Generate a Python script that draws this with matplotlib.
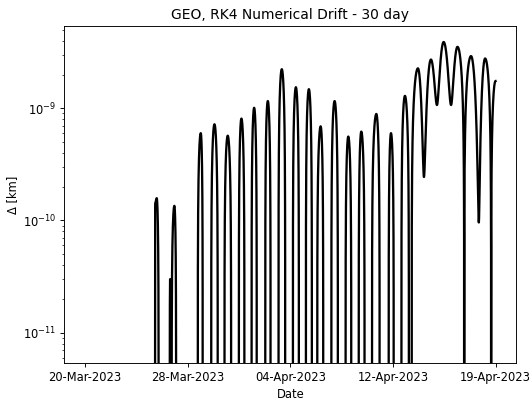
import numpy as np
import matplotlib
matplotlib.use("Agg")
import matplotlib.pyplot as plt
import matplotlib.dates as mdates

# Propagation epoch and span (days)
epoch = np.datetime64("2023-03-20T12:00")
span_days = 30.0

# Turning points of the drift curve: days since epoch and |delta| in km.
# A value of 0 means the two propagations agree exactly at that instant.
knot_day = [
    0.00,
    5.12, 5.13, 5.24, 5.38,
    6.19, 6.22, 6.25,
    6.33, 6.53, 6.66,
    8.24, 8.46, 8.60,
    9.22, 9.46, 9.70,
    10.19, 10.43, 10.68,
    11.24, 11.43, 11.65,
    12.17, 12.36, 12.55,
    13.17, 13.36, 13.56,
    14.14, 14.38, 14.63,
    15.19, 15.41, 15.63,
    16.14, 16.36, 16.58,
    16.97, 17.22, 17.41,
    18.00, 18.24, 18.48,
    19.04, 19.24, 19.46,
    20.00, 20.19, 20.43,
    20.97, 21.29, 21.53,
    22.19, 22.36, 22.56,
    23.12, 23.38, 23.67,
    23.87, 24.33, 24.77, 25.28, 25.72, 26.21, 26.75, 27.22, 27.71,
    28.21, 28.78, 29.24, 29.68, 30.00,
]
knot_drift = [
    0.0,
    0.0, 1.43e-10, 1.58e-10, 0.0,
    0.0, 3.0e-11, 0.0,
    0.0, 1.35e-10, 0.0,
    0.0, 6.0e-10, 0.0,
    0.0, 7.2e-10, 0.0,
    0.0, 5.7e-10, 0.0,
    0.0, 8.1e-10, 0.0,
    0.0, 1.01e-9, 0.0,
    0.0, 1.16e-9, 0.0,
    0.0, 2.23e-9, 0.0,
    0.0, 1.54e-9, 0.0,
    0.0, 1.48e-9, 0.0,
    0.0, 6.9e-10, 0.0,
    0.0, 1.16e-9, 0.0,
    0.0, 5.6e-10, 0.0,
    0.0, 6.2e-10, 0.0,
    0.0, 8.9e-10, 0.0,
    0.0, 6.0e-10, 0.0,
    0.0, 1.29e-9, 0.0,
    0.0, 2.27e-9, 2.44e-10, 2.72e-9, 1.07e-9, 3.9e-9, 1.07e-9, 3.53e-9, 0.0,
    2.92e-9, 9.6e-11, 2.78e-9, 0.0, 1.75e-9,
]


def smooth_segment(t0, t1, v0, v1, n=80):
    """Rounded transition between two turning points."""
    s = np.linspace(0.0, 1.0, n)
    if v0 == 0.0:
        shape = np.sin(np.pi * s / 2)
    elif v1 == 0.0:
        shape = 1.0 - np.cos(np.pi * s / 2)
    else:
        shape = 0.5 - 0.5 * np.cos(np.pi * s)
    return t0 + (t1 - t0) * s, v0 + (v1 - v0) * shape


days = []
drift = []
for i in range(len(knot_day) - 1):
    t, v = smooth_segment(knot_day[i], knot_day[i + 1],
                          knot_drift[i], knot_drift[i + 1])
    days.append(t[:-1])
    drift.append(v[:-1])
days.append([knot_day[-1]])
drift.append([knot_drift[-1]])
days = np.concatenate(days)
drift = np.concatenate(drift)

times = epoch + (days * 86400e3).astype("timedelta64[ms]")

dpi = 83.125
fig = plt.figure(figsize=(532 / dpi, 402 / dpi), dpi=dpi)
ax = fig.add_axes([0.1212, 0.0978, 0.970 - 0.1212, 0.935 - 0.0978])

ax.plot(times, drift, color="black", linewidth=2)

ax.set_yscale("log")
ax.set_ylim(5.4e-12, 5.4e-9)

tick_days = np.linspace(0.0, span_days, 5)
ax.set_xticks(epoch + (tick_days * 86400e3).astype("timedelta64[ms]"))
ax.xaxis.set_major_formatter(mdates.DateFormatter("%d-%b-%Y"))

ax.set_title("GEO, RK4 Numerical Drift - 30 day")
ax.set_xlabel("Date")
ax.set_ylabel("Δ [km]")

fig.savefig("out.png", dpi=dpi)
